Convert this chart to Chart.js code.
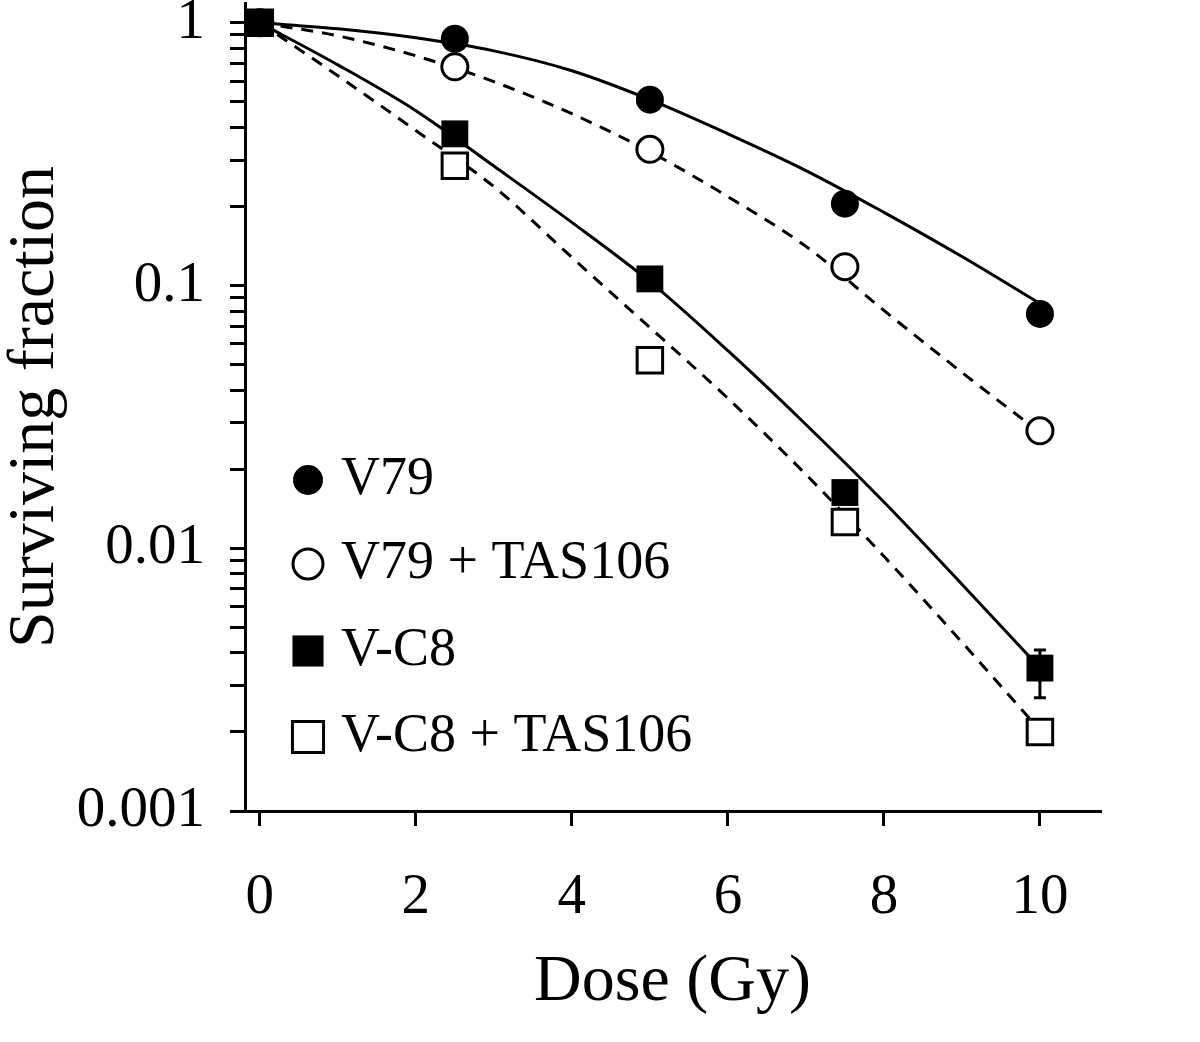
<!DOCTYPE html>
<html>
<head>
<meta charset="utf-8">
<script src="https://cdn.jsdelivr.net/npm/chart.js@4.4.1/dist/chart.umd.min.js"></script>
<style>
html,body{margin:0;padding:0;background:#fff;}
#wrap{width:1200px;height:1042px;position:relative;}
</style>
</head>
<body>
<div id="wrap"><canvas id="chart"></canvas></div>
<script>
// measured points (dose in Gy, surviving fraction)
var doses=[0,2.5,5,7.5,10];
var v79=[1.0,0.87,0.51,0.205,0.078];
var v79Tas=[1.0,0.68,0.33,0.118,0.028];
var vc8=[1.0,0.378,0.106,0.0163,0.0035];
var vc8Tas=[1.0,0.286,0.052,0.0126,0.0020];
// visible error bar (V-C8 at 10 Gy)
var vc8ErrLow=[null,null,null,null,0.0027];
var vc8ErrHigh=[null,null,null,null,0.0041];

// fitted curves
var fitDoses=[0,1,2,3,4,5,6,7,8,9,10];
var fitV79=[1,0.949,0.877,0.782,0.657,0.51,0.378,0.274,0.19,0.129,0.0855];
var fitV79Tas=[1,0.892,0.749,0.597,0.451,0.323,0.218,0.141,0.0804,0.0467,0.0276];
var fitVc8=[1,0.692,0.463,0.285,0.174,0.1035,0.0565,0.0296,0.0150,0.0073,0.0035];
var fitVc8Tas=[1,0.629,0.389,0.238,0.128,0.0692,0.0372,0.0191,0.00932,0.00439,0.00203];

var legendLabels=['V79','V79 + TAS106','V-C8','V-C8 + TAS106'];
var xTicks=[0,2,4,6,8,10];
var yMajor=[0.001,0.01,0.1,1];
var yTickLabels=['0.001','0.01','0.1','1'];

var K='#000';
var FONT="'Liberation Serif','Times New Roman',serif";

function pts(xs,ys){return xs.map(function(x,i){return {x:x,y:ys[i]};});}

// marker styles: filled circle, open circle, filled square, open square
var MK=[
  {pointStyle:'circle',radius:14,fill:K,border:0},
  {pointStyle:'circle',radius:13,fill:'#fff',border:3},
  {pointStyle:'rect',radius:19,fill:K,border:0},
  {pointStyle:'rect',radius:18,fill:'#fff',border:3}
];

function markerSet(label,ys,m){
  return {label:label,data:pts(doses,ys),showLine:false,order:0,clip:false,
    pointStyle:m.pointStyle,pointRadius:m.radius,pointBackgroundColor:m.fill,
    pointBorderColor:K,pointBorderWidth:m.border,borderColor:K,backgroundColor:m.fill};
}
function curveSet(ys,dashed){
  return {label:'',data:pts(fitDoses,ys),showLine:true,order:1,clip:false,pointRadius:0,
    borderColor:K,borderWidth:3,borderDash:dashed?[12,9]:[],cubicInterpolationMode:'monotone',fill:false};
}

// error bars drawn under the markers
var errorBars={
  id:'errorBars',
  beforeDatasetsDraw:function(chart){
    var ctx=chart.ctx,xs=chart.scales.x,ys=chart.scales.y;
    ctx.save();
    ctx.strokeStyle=K;ctx.lineWidth=3;
    for(var i=0;i<doses.length;i++){
      if(vc8ErrLow[i]==null) continue;
      var px=xs.getPixelForValue(doses[i]);
      var y1=ys.getPixelForValue(vc8ErrHigh[i]),y2=ys.getPixelForValue(vc8ErrLow[i]);
      ctx.beginPath();
      ctx.moveTo(px,y1);ctx.lineTo(px,y2);
      ctx.moveTo(px-6,y1);ctx.lineTo(px+6,y1);
      ctx.moveTo(px-6,y2);ctx.lineTo(px+6,y2);
      ctx.stroke();
    }
    ctx.restore();
  }
};

// legend inside the plot, lower left
var innerLegend={
  id:'innerLegend',
  afterDraw:function(chart){
    var ctx=chart.ctx;
    var rows=[480,564,651,737];
    ctx.save();
    ctx.font='54px '+FONT;
    ctx.textBaseline='middle';
    ctx.textAlign='left';
    legendLabels.forEach(function(t,i){
      var m=MK[i];
      ctx.fillStyle=m.fill;ctx.strokeStyle=K;ctx.lineWidth=m.border||0.001;
      Chart.helpers.drawPoint(ctx,{pointStyle:m.pointStyle,radius:m.pointStyle==='rect'?22:15,rotation:0,borderWidth:m.border},308,rows[i]);
      ctx.fillStyle=K;
      ctx.fillText(t,341,rows[i]);
    });
    ctx.restore();
  }
};

Chart.defaults.font.family=FONT;
Chart.defaults.color=K;

new Chart(document.getElementById('chart'),{
  type:'scatter',
  data:{
    datasets:[
      markerSet(legendLabels[0],v79,MK[0]),
      markerSet(legendLabels[1],v79Tas,MK[1]),
      markerSet(legendLabels[2],vc8,MK[2]),
      markerSet(legendLabels[3],vc8Tas,MK[3]),
      curveSet(fitV79,false),
      curveSet(fitV79Tas,true),
      curveSet(fitVc8,false),
      curveSet(fitVc8Tas,true)
    ]
  },
  options:{
    responsive:true,
    maintainAspectRatio:false,
    animation:false,
    events:[],
    layout:{autoPadding:false,padding:{left:0,right:100,top:3,bottom:0}},
    plugins:{legend:{display:false},tooltip:{enabled:false}},
    elements:{line:{tension:0}},
    scales:{
      x:{
        type:'linear',min:-0.19,max:10.77,
        afterBuildTicks:function(s){s.ticks=xTicks.map(function(v){return {value:v};});},
        afterFit:function(s){s.height=231;s.paddingLeft=0;s.paddingRight=0;},
        grid:{drawOnChartArea:false,drawTicks:true,tickLength:15,color:K,lineWidth:3},
        border:{display:true,color:K,width:3},
        ticks:{color:K,font:{size:57},padding:38,autoSkip:false,maxRotation:0},
        title:{display:true,text:'Dose (Gy)',color:K,font:{size:66,lineHeight:1.2},padding:{top:0,bottom:20}}
      },
      y:{
        type:'logarithmic',min:0.001,max:1.19,
        afterBuildTicks:function(s){
          var t=[];
          for(var d=0;d<yMajor.length;d++){
            var base=yMajor[d];
            t.push({value:base,major:true});
            if(d<yMajor.length-1){for(var m=2;m<=9;m++) t.push({value:base*m});}
          }
          s.ticks=t;
        },
        afterFit:function(s){s.width=245;s.paddingTop=0;s.paddingBottom=0;},
        grid:{drawOnChartArea:false,drawTicks:true,tickLength:15,color:K,lineWidth:3},
        border:{display:true,color:K,width:3},
        ticks:{color:K,font:{size:57,lineHeight:0.6},padding:25,autoSkip:false,
          callback:function(v){
            for(var i=0;i<yMajor.length;i++){if(Math.abs(v-yMajor[i])<yMajor[i]*1e-6) return yTickLabels[i];}
            return '';
          }},
        title:{display:true,text:'Surviving fraction',color:K,font:{size:66,lineHeight:1},padding:{top:3,bottom:0}}
      }
    }
  },
  plugins:[errorBars,innerLegend]
});
</script>
</body>
</html>
